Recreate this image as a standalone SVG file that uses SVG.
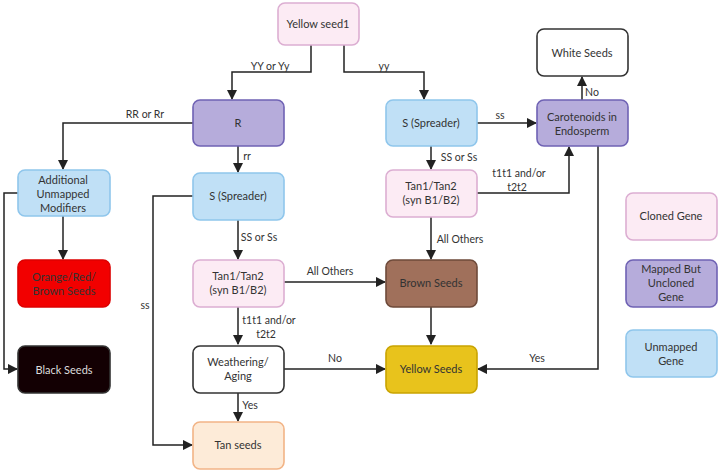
<svg xmlns="http://www.w3.org/2000/svg" width="720" height="472" viewBox="0 0 720 472">
<style>
rect{stroke-width:1.6}
.pk{fill:#fcebf4;stroke:#dcaed2}
.pu{fill:#b6acdb;stroke:#6f62b4}
.bl{fill:#c0e0f6;stroke:#8fc6ec}
.wh{fill:#fff;stroke:#333}
text{font-family:Lato,"Liberation Sans",sans-serif;font-size:11px;fill:#333;text-anchor:middle}
.c path{fill:none;stroke:#222;stroke-width:1.5;marker-end:url(#a)}
.l text{font-size:10.5px}
</style>
<defs><marker id="a" viewBox="0 0 10 10" refX="9" refY="5" markerWidth="7" markerHeight="7" orient="auto"><path d="M0,0L10,5L0,10z" fill="#222"/></marker></defs>
<g class="c">
<path d="M311,45V72H232V99"/>
<path d="M344,45V72H424V99"/>
<path d="M193,123H63V169"/>
<path d="M238,146V172"/>
<path d="M193,196H153V445H192"/>
<path d="M238,220V259"/>
<path d="M284,282H385"/>
<path d="M238,307V344"/>
<path d="M284,369H385"/>
<path d="M238,393V421"/>
<path d="M18,193H4V369H17"/>
<path d="M63,216V259"/>
<path d="M477,123H536"/>
<path d="M431,146V169"/>
<path d="M477,193H569V147"/>
<path d="M431,217V259"/>
<path d="M431,307V344"/>
<path d="M582,100V77"/>
<path d="M598,146V369H478"/>
</g>
<g class="l">
<text x="270" y="70">YY or Yy</text>
<text x="384" y="70">yy</text>
<text x="145" y="118">RR or Rr</text>
<text x="247" y="160">rr</text>
<text x="145" y="309">ss</text>
<text x="259" y="241">SS or Ss</text>
<text x="330" y="275">All Others</text>
<text x="269" y="324">t1t1 and/or</text>
<text x="266" y="338">t2t2</text>
<text x="335" y="362">No</text>
<text x="250" y="409">Yes</text>
<text x="500" y="119">ss</text>
<text x="459" y="161">SS or Ss</text>
<text x="519" y="177">t1t1 and/or</text>
<text x="517" y="191">t2t2</text>
<text x="460" y="243">All Others</text>
<text x="592" y="96">No</text>
<text x="537" y="362">Yes</text>
</g>
<g id="yellowseed1"><rect class="pk" x="278" y="3" width="81" height="42" rx="7"/><text x="318" y="28">Yellow seed1</text></g>
<g id="R"><rect class="pu" x="193" y="100" width="91" height="46" rx="7"/><text x="238" y="127">R</text></g>
<g id="additional"><rect class="bl" x="18" y="170" width="92" height="46" rx="7"/><text x="63" y="184">Additional</text><text x="63" y="198">Unmapped</text><text x="63" y="212">Modifiers</text></g>
<g id="sleft"><rect class="bl" x="193" y="173" width="91" height="47" rx="7"/><text x="238" y="200">S (Spreader)</text></g>
<g id="orange"><rect fill="#f20000" stroke="#d00" x="18" y="260" width="92" height="47" rx="7"/><text x="64" y="281" fill="#600">Orange/Red/</text><text x="64" y="295">Brown Seeds</text></g>
<g id="tanleft"><rect class="pk" x="193" y="260" width="91" height="47" rx="7"/><text x="238" y="280">Tan1/Tan2</text><text x="238" y="294">(syn B1/B2)</text></g>
<g id="black"><rect fill="#130003" stroke="#333" x="18" y="346" width="92" height="47" rx="7"/><text x="64" y="374" style="fill:#ddd">Black Seeds</text></g>
<g id="weathering"><rect class="wh" x="193" y="346" width="91" height="47" rx="7"/><text x="238" y="366">Weathering/</text><text x="238" y="380">Aging</text></g>
<g id="tanseeds"><rect fill="#fdebd8" stroke="#f2b486" x="193" y="422" width="91" height="47" rx="7"/><text x="238" y="449">Tan seeds</text></g>
<g id="white"><rect class="wh" x="537" y="29" width="91" height="47" rx="7"/><text x="582" y="57">White Seeds</text></g>
<g id="sright"><rect class="bl" x="386" y="100" width="91" height="46" rx="7"/><text x="431" y="127">S (Spreader)</text></g>
<g id="carot"><rect class="pu" x="537" y="100" width="91" height="46" rx="7"/><text x="582" y="121">Carotenoids in</text><text x="582" y="135">Endosperm</text></g>
<g id="tanright"><rect class="pk" x="386" y="170" width="91" height="47" rx="7"/><text x="431" y="190">Tan1/Tan2</text><text x="431" y="204">(syn B1/B2)</text></g>
<g id="brown"><rect fill="#a0705b" stroke="#6e4a3a" x="386" y="260" width="91" height="47" rx="7"/><text x="431" y="287">Brown Seeds</text></g>
<g id="yellowseeds"><rect fill="#e8c31c" stroke="#c9a400" x="386" y="346" width="91" height="47" rx="7"/><text x="431" y="373">Yellow Seeds</text></g>
<g id="leg1"><rect class="pk" x="626" y="193" width="91" height="47" rx="7"/><text x="671" y="220">Cloned Gene</text></g>
<g id="leg2"><rect class="pu" x="626" y="260" width="91" height="47" rx="7"/><text x="671" y="273">Mapped But</text><text x="671" y="287">Uncloned</text><text x="671" y="301">Gene</text></g>
<g id="leg3"><rect class="bl" x="626" y="330" width="91" height="47" rx="7"/><text x="671" y="351">Unmapped</text><text x="671" y="365">Gene</text></g>
</svg>
